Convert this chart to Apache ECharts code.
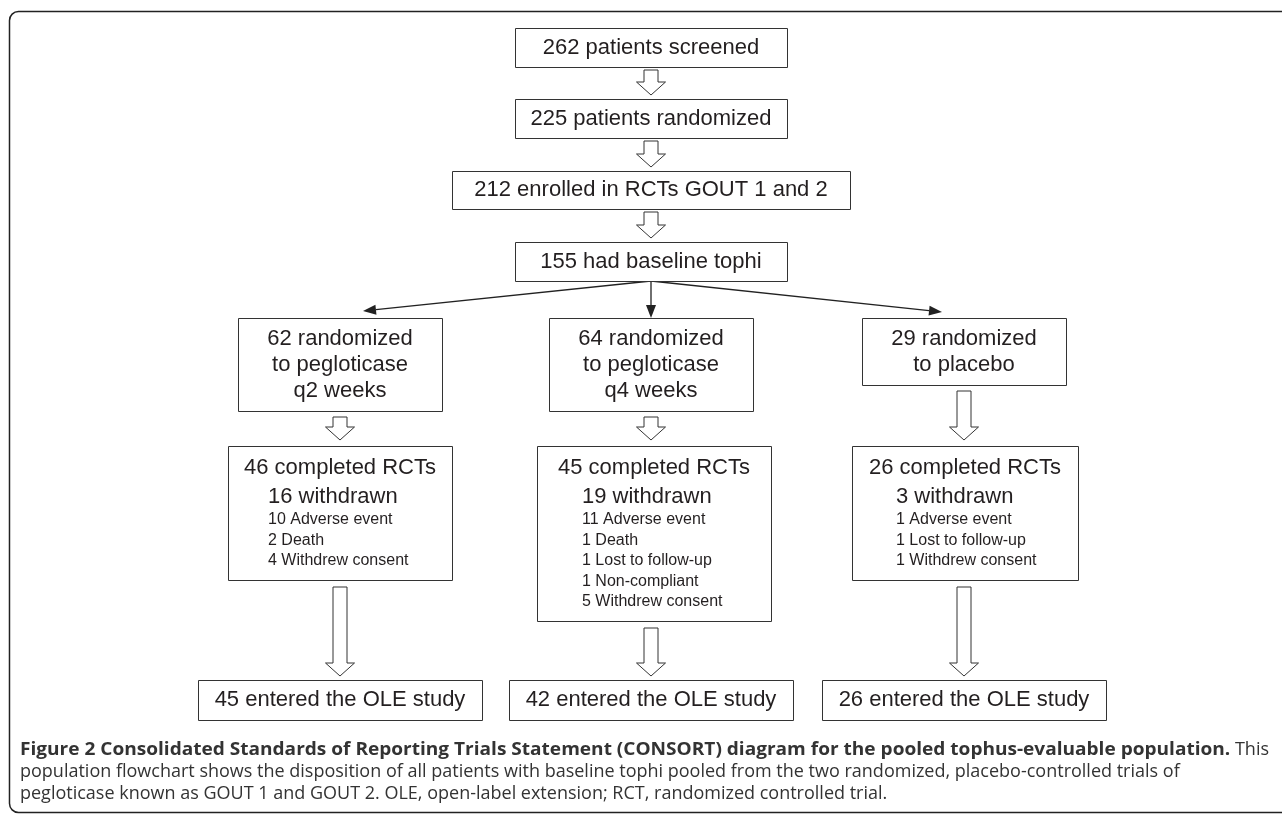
<!DOCTYPE html>
<html><head><meta charset="utf-8">
<script src="https://cdn.jsdelivr.net/npm/echarts@6/dist/echarts.min.js"></script>
<style>html,body{margin:0;padding:0;background:#fff}#chart{width:1282px;height:815px}</style>
</head><body><div id="chart"></div>
<script>
// ---------------- DATA ----------------
const topStages = ['262 patients screened', '225 patients randomized', '212 enrolled in RCTs GOUT 1 and 2', '155 had baseline tophi'];
const armNames = [['62 randomized', 'to pegloticase', 'q2 weeks'], ['64 randomized', 'to pegloticase', 'q4 weeks'], ['29 randomized', 'to placebo']];
const completedRCTs = [46, 45, 26];
const withdrawnTotal = [16, 19, 3];
const withdrawReasons = [
  ['10 Adverse event', '2 Death', '4 Withdrew consent'],
  ['11 Adverse event', '1 Death', '1 Lost to follow-up', '1 Non-compliant', '5 Withdrew consent'],
  ['1 Adverse event', '1 Lost to follow-up', '1 Withdrew consent']
];
const enteredOLE = [45, 42, 26];
const captionBold = 'Figure 2 Consolidated Standards of Reporting Trials Statement (CONSORT) diagram for the pooled tophus-evaluable population.';
const captionLines = [' This', 'population flowchart shows the disposition of all patients with baseline tophi pooled from the two randomized, placebo-controlled trials of', 'pegloticase known as GOUT 1 and GOUT 2. OLE, open-label extension; RCT, randomized controlled trial.'];

// ---------------- LAYOUT (layout units on hidden axes) ----------------
const LAYOUT = {
  mainX: 651,
  armX: [340, 651, 964],
  top: [{ y0: 28, y1: 67, w: 272 }, { y0: 99, y1: 138, w: 272 }, { y0: 171, y1: 209, w: 398 }, { y0: 242, y1: 281, w: 272 }],
  armY0: 318, armW: 204, armLineGap: 26, armPad: 21, armBottomPad: 20,
  comp: { y0: 446, x0: [228, 537, 852], x1: [452, 771, 1078], inset: [40, 45, 44] },
  oleY0: 680, oleY1: 720, oleW: 284,
  forkTips: [[363, 311], [651, 318], [942, 312]],
  caption: { x: 20, right: 1269, y: [750, 772, 794] }
};
const FONT_FAMILY = '"Liberation Sans", Arial, Helvetica, sans-serif';
const FONT_BIG = '22px ' + FONT_FAMILY;
const FONT_SMALL = '16px ' + FONT_FAMILY;
const CAP_FAMILY = '"Open Sans", "Noto Sans", sans-serif';
const CAP_REG = '18px ' + CAP_FAMILY;
const CAP_BOLD = 'bold 18px ' + CAP_FAMILY;
const INK = '#231f20';
const CAP_INK = '#333333';

// build boxes
const boxes = [];
topStages.forEach((t, i) => {
  const g = LAYOUT.top[i];
  boxes.push({ x0: LAYOUT.mainX - g.w / 2, x1: LAYOUT.mainX + g.w / 2, y0: g.y0, y1: g.y1,
    lines: [{ text: t, x: LAYOUT.mainX, y: (g.y0 + g.y1) / 2, font: FONT_BIG, align: 'center' }] });
});
const armBoxes = armNames.map((lines, i) => {
  const cx = LAYOUT.armX[i];
  const y0 = LAYOUT.armY0;
  const y1 = y0 + LAYOUT.armPad + (lines.length - 1) * LAYOUT.armLineGap + LAYOUT.armBottomPad;
  const b = { x0: cx - LAYOUT.armW / 2, x1: cx + LAYOUT.armW / 2, y0, y1,
    lines: lines.map((t, j) => ({ text: t, x: cx, y: y0 + LAYOUT.armPad + j * LAYOUT.armLineGap, font: FONT_BIG, align: 'center' })) };
  boxes.push(b); return b;
});
const compBoxes = completedRCTs.map((n, i) => {
  const x0 = LAYOUT.comp.x0[i], x1 = LAYOUT.comp.x1[i], y0 = LAYOUT.comp.y0;
  const cx = (x0 + x1) / 2, lx = x0 + LAYOUT.comp.inset[i];
  const reasons = withdrawReasons[i];
  const lines = [
    { text: n + ' completed RCTs', x: cx, y: y0 + 22, font: FONT_BIG, align: 'center' },
    { text: withdrawnTotal[i] + ' withdrawn', x: lx, y: y0 + 51, font: FONT_BIG, align: 'left' }
  ];
  reasons.forEach((r, j) => lines.push({ text: r, x: lx, y: y0 + 74 + j * 20.5, font: FONT_SMALL, align: 'left' }));
  const y1 = y0 + 74 + (reasons.length - 1) * 20.5 + 19;
  const b = { x0, x1, y0, y1, lines };
  boxes.push(b); return b;
});
const oleBoxes = enteredOLE.map((n, i) => {
  const cx = LAYOUT.armX[i];
  const b = { x0: cx - LAYOUT.oleW / 2, x1: cx + LAYOUT.oleW / 2, y0: LAYOUT.oleY0, y1: LAYOUT.oleY1,
    lines: [{ text: n + ' entered the OLE study', x: cx, y: (LAYOUT.oleY0 + LAYOUT.oleY1) / 2, font: FONT_BIG, align: 'center' }] };
  boxes.push(b); return b;
});

// hollow block arrows
const hollow = [];
for (let i = 0; i < 3; i++) hollow.push({ x: LAYOUT.mainX, y0: LAYOUT.top[i].y1 + 3, y1: LAYOUT.top[i + 1].y0 - 4 });
armBoxes.forEach((b, i) => hollow.push({ x: LAYOUT.armX[i], y0: b.y1 + 6, y1: compBoxes[i].y0 - 6 }));
compBoxes.forEach((b, i) => hollow.push({ x: LAYOUT.armX[i], y0: b.y1 + 7, y1: oleBoxes[i].y0 - 4 }));

// fork arrows
const forkStart = [LAYOUT.mainX, LAYOUT.top[3].y1];
const forks = LAYOUT.forkTips.map(t => ({ from: forkStart, to: t }));

// caption measurement (fit bold line to the reference width)
const mctx = document.createElement('canvas').getContext('2d');
mctx.font = CAP_REG; const thisW = mctx.measureText(captionLines[0]).width;
mctx.font = CAP_BOLD; const boldW = mctx.measureText(captionBold).width;
const boldScale = (LAYOUT.caption.right - thisW - LAYOUT.caption.x) / boldW;

// ---------------- RENDER ----------------
const chart = echarts.init(document.getElementById('chart'), null, { renderer: 'canvas' });

function renderBox(params, api) {
  const b = boxes[params.dataIndex];
  const p0 = api.coord([b.x0, b.y0]), p1 = api.coord([b.x1, b.y1]);
  const children = [{ type: 'rect', shape: { x: Math.round(p0[0]) + 0.5, y: Math.round(p0[1]) + 0.5, width: Math.round(p1[0] - p0[0]), height: Math.round(p1[1] - p0[1]) },
    style: { fill: '#fff', stroke: '#333', lineWidth: 1 } }];
  b.lines.forEach(l => {
    const p = api.coord([l.x, l.y]);
    children.push({ type: 'text', style: { text: l.text, x: p[0], y: p[1], font: l.font, fill: INK, align: l.align, verticalAlign: 'middle' } });
  });
  return { type: 'group', children };
}
function renderHollow(params, api) {
  const a = hollow[params.dataIndex];
  const hw = 7, hh = 14.5, hl = 13;
  const pts = [[a.x - hw, a.y0], [a.x + hw, a.y0], [a.x + hw, a.y1 - hl], [a.x + hh, a.y1 - hl], [a.x, a.y1], [a.x - hh, a.y1 - hl], [a.x - hw, a.y1 - hl]]
    .map(p => api.coord(p));
  return { type: 'polygon', shape: { points: pts }, style: { fill: '#fff', stroke: '#333', lineWidth: 1 } };
}
function renderFork(params, api) {
  const f = forks[params.dataIndex];
  const s = api.coord(f.from), e = api.coord(f.to);
  const dx = e[0] - s[0], dy = e[1] - s[1], len = Math.hypot(dx, dy);
  const ux = dx / len, uy = dy / len, L = 13, W = 5;
  const bx = e[0] - ux * L, by = e[1] - uy * L;
  return { type: 'group', children: [
    { type: 'line', shape: { x1: s[0], y1: s[1], x2: bx, y2: by }, style: { stroke: '#222', lineWidth: 1.3 } },
    { type: 'polygon', shape: { points: [[e[0], e[1]], [bx - uy * W, by + ux * W], [bx + uy * W, by - ux * W]] }, style: { fill: '#222' } }
  ] };
}

const C = LAYOUT.caption;
chart.setOption({
  animation: false,
  grid: { left: 0, right: 0, top: 0, bottom: 0 },
  xAxis: { type: 'value', min: 0, max: 1282, show: false },
  yAxis: { type: 'value', min: 0, max: 815, inverse: true, show: false },
  graphic: [
    { type: 'rect', shape: { x: 9.5, y: 11.5, width: 1300, height: 801, r: 9 }, style: { fill: 'none', stroke: '#222', lineWidth: 1.5 }, silent: true },
    { type: 'text', x: C.x, y: C.y[0], scaleX: boldScale, style: { text: captionBold, font: CAP_BOLD, fill: CAP_INK, verticalAlign: 'middle', align: 'left' } },
    { type: 'text', x: C.right, y: C.y[0], style: { text: captionLines[0], font: CAP_REG, fill: CAP_INK, verticalAlign: 'middle', align: 'right' } },
    { type: 'text', x: C.x, y: C.y[1], style: { text: captionLines[1], font: CAP_REG, fill: CAP_INK, verticalAlign: 'middle', align: 'left' } },
    { type: 'text', x: C.x, y: C.y[2], style: { text: captionLines[2], font: CAP_REG, fill: CAP_INK, verticalAlign: 'middle', align: 'left' } }
  ],
  series: [
    { type: 'custom', renderItem: renderFork, data: forks.map(f => f.to), silent: true },
    { type: 'custom', renderItem: renderHollow, data: hollow.map(a => [a.x, a.y1]), silent: true },
    { type: 'custom', renderItem: renderBox, data: boxes.map(b => [(b.x0 + b.x1) / 2, (b.y0 + b.y1) / 2]), silent: true }
  ]
});
</script></body></html>
